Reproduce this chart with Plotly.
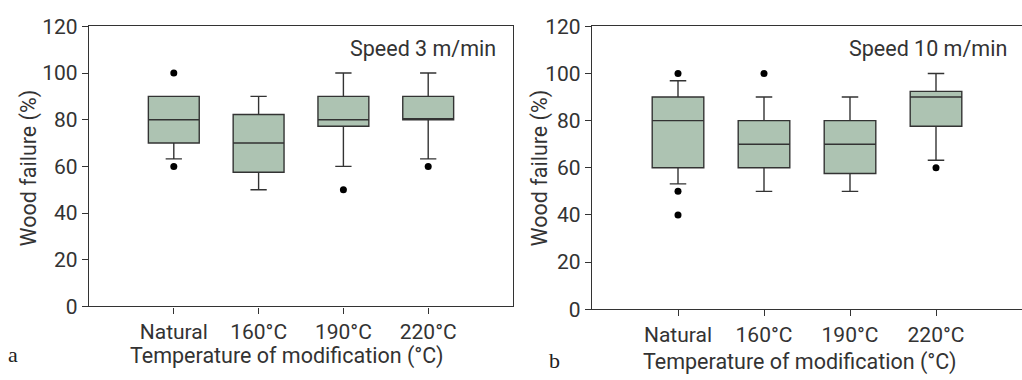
import plotly.graph_objects as go

categories = ["Natural", "160°C", "190°C", "220°C"]
positions = [0, 1, 2, 3]
y_ticks = [0, 20, 40, 60, 80, 100, 120]

# Panel a: Speed 3 m/min
a_q1 = [70, 57.5, 77.2, 80]
a_median = [80, 70, 80, 80]
a_q3 = [90, 82.2, 90, 90]
a_low = [63.2, 50, 60, 63.2]
a_high = [90, 90, 100, 100]
a_out_x = [0, 0, 2, 3]
a_out_y = [100, 60, 50, 60]

# Panel b: Speed 10 m/min
b_q1 = [60, 60, 57.6, 77.6]
b_median = [80, 70, 70, 90]
b_q3 = [90, 80, 80, 92.4]
b_low = [53.2, 50, 50, 63.2]
b_high = [96.9, 90, 90, 100]
b_out_x = [0, 0, 0, 1, 3]
b_out_y = [100, 50, 40, 100, 60]

W, H = 1022, 380
FILL = "#adc3b2"
LINE = "#333333"
FONT = "Roboto"
TXT = "#333333"
TICK_SIZE = 21
TITLE_SIZE = 21.5

fig = go.Figure()

def add_panel(xa, ya, q1, med, q3, lo, hi, ox, oy):
    fig.add_trace(go.Box(
        x=positions, q1=q1, median=med, q3=q3, lowerfence=lo, upperfence=hi,
        xaxis=xa, yaxis=ya, width=0.6, whiskerwidth=0.32,
        fillcolor=FILL, line=dict(color=LINE, width=1.4),
        boxpoints=False, showlegend=False, hoverinfo="skip",
    ))
    fig.add_trace(go.Scatter(
        x=ox, y=oy, xaxis=xa, yaxis=ya, mode="markers",
        marker=dict(color="black", size=7), showlegend=False, hoverinfo="skip",
    ))

add_panel("x", "y", a_q1, a_median, a_q3, a_low, a_high, a_out_x, a_out_y)
add_panel("x2", "y2", b_q1, b_median, b_q3, b_low, b_high, b_out_x, b_out_y)

def xax(domain, anchor, mirror):
    return dict(domain=domain, anchor=anchor, range=[-1, 4], tickvals=positions,
                ticktext=categories, showline=True, linecolor=LINE, linewidth=1.3,
                mirror=mirror, ticks="outside", ticklen=6, tickcolor=LINE,
                showgrid=False, zeroline=False, fixedrange=True,
                tickfont=dict(family=FONT, size=TICK_SIZE, color=TXT))

def yax(domain, anchor, mirror):
    return dict(domain=domain, anchor=anchor, range=[0, 120], tickvals=y_ticks,
                showline=True, linecolor=LINE, linewidth=1.3, mirror=mirror,
                ticks="outside", ticklen=6, tickcolor=LINE, showgrid=False,
                zeroline=False, fixedrange=True,
                tickfont=dict(family=FONT, size=TICK_SIZE, color=TXT))

fig.update_layout(
    width=W, height=H, margin=dict(l=0, r=0, t=0, b=0),
    paper_bgcolor="white", plot_bgcolor="white",
    xaxis=xax([89 / W, 513 / W], "y", True),
    yaxis=yax([1 - 314.3 / H, 1 - 15.3 / H], "x", True),
    xaxis2=xax([592 / W, 1.0], "y2", True),
    yaxis2=yax([1 - 317.3 / H, 1 - 15.3 / H], "x2", False),
    showlegend=False,
)

ann = [
    dict(text="Speed 3 m/min", x=498 / W, y=1 - 39 / H, xanchor="right", yanchor="middle",
         font=dict(family=FONT, size=TITLE_SIZE, color=TXT)),
    dict(text="Speed 10 m/min", x=1009 / W, y=1 - 39 / H, xanchor="right", yanchor="middle",
         font=dict(family=FONT, size=TITLE_SIZE, color=TXT)),
    dict(text="Wood failure (%)", x=29 / W, y=1 - 167 / H, textangle=-90,
         xanchor="center", yanchor="middle", font=dict(family=FONT, size=TITLE_SIZE, color=TXT)),
    dict(text="Wood failure (%)", x=540 / W, y=1 - 167 / H, textangle=-90,
         xanchor="center", yanchor="middle", font=dict(family=FONT, size=TITLE_SIZE, color=TXT)),
    dict(text="Temperature of modification (°C)", x=287 / W, y=1 - 367 / H,
         xanchor="center", yanchor="middle", font=dict(family=FONT, size=TITLE_SIZE, color=TXT)),
    dict(text="Temperature of modification (°C)", x=800 / W, y=1 - 374 / H,
         xanchor="center", yanchor="middle", font=dict(family=FONT, size=TITLE_SIZE, color=TXT)),
    dict(text="a", x=13 / W, y=1 - 366 / H, xanchor="center", yanchor="middle",
         font=dict(family="Liberation Serif", size=22, color="#222")),
    dict(text="b", x=554 / W, y=1 - 372 / H, xanchor="center", yanchor="middle",
         font=dict(family="Liberation Serif", size=22, color="#222")),
]
for a in ann:
    a.update(xref="paper", yref="paper", showarrow=False)
fig.update_layout(annotations=ann)

fig.write_html("out.html")
